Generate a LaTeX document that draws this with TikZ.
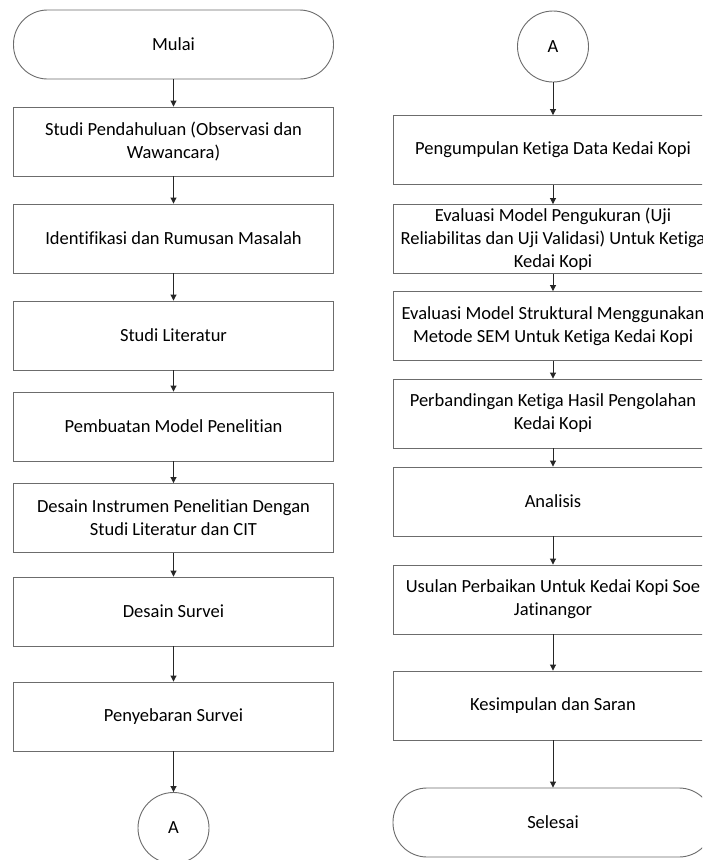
\documentclass[tikz,border=0pt]{standalone}
\usepackage{fontspec}
\setmainfont{Carlito}[Ligatures=CommonOff]
\usepackage{tikz}
\usetikzlibrary{arrows.meta}
\tikzstyle{proses}=[draw=gray!85!black,line width=0.9pt,shape=rectangle,minimum width=320,minimum height=69,align=center,inner sep=0pt]
\tikzstyle{terminal}=[proses,rounded corners=34pt]
\tikzstyle{konektor}=[draw=gray!85!black,line width=0.9pt,shape=circle,minimum size=71,inner sep=0pt]
\tikzstyle{panah}=[draw=black!85,line width=0.9pt,-{Triangle[length=6pt,width=6pt]}]

\begin{document}
\begin{tikzpicture}[x=1pt,y=-1pt,font=\fontsize{18.5}{23}\selectfont]
\clip (0,0) rectangle (702,860);
\fill[white] (0,0) rectangle (702,860);

\node[terminal] (mulai) at (173.5,44.5) {Mulai};
\node[proses] (studi) at (173.5,141.5) {Studi Pendahuluan (Observasi dan\\Wawancara)};
\node[proses] (rumusan) at (173.5,238.5) {Identifikasi dan Rumusan Masalah};
\node[proses] (literatur) at (173.5,335.5) {Studi Literatur};
\node[proses] (model) at (173.5,426.5) {Pembuatan Model Penelitian};
\node[proses] (instrumen) at (173.5,518) {Desain Instrumen Penelitian Dengan\\Studi Literatur dan CIT};
\node[proses] (desain) at (173.5,611.5) {Desain Survei};
\node[proses] (sebar) at (173.5,716.5) {Penyebaran Survei};
\node[konektor] (a1) at (173.5,828) {A};

\node[konektor] (a2) at (553,46.5) {A};
\node[proses] (kumpul) at (553,150) {Pengumpulan Ketiga Data Kedai Kopi};
\node[proses] (ukur) at (553,239) {Evaluasi Model Pengukuran (Uji\\Reliabilitas dan Uji Validasi) Untuk Ketiga\\Kedai Kopi};
\node[proses] (struktural) at (553,326) {Evaluasi Model Struktural Menggunakan\\Metode SEM Untuk Ketiga Kedai Kopi};
\node[proses] (banding) at (553,413.5) {Perbandingan Ketiga Hasil Pengolahan\\Kedai Kopi};
\node[proses] (analisis) at (553,501.5) {Analisis};
\node[proses] (usulan) at (553,599.5) {Usulan Perbaikan Untuk Kedai Kopi Soe\\Jatinangor};
\node[proses] (simpulan) at (553,705.5) {Kesimpulan dan Saran};
\node[terminal] (selesai) at (553,822.5) {Selesai};

\draw[panah] (mulai) -- (studi);
\draw[panah] (studi) -- (rumusan);
\draw[panah] (rumusan) -- (literatur);
\draw[panah] (literatur) -- (model);
\draw[panah] (model) -- (instrumen);
\draw[panah] (instrumen) -- (desain);
\draw[panah] (desain) -- (sebar);
\draw[panah] (sebar) -- (a1);

\draw[panah] (a2) -- (kumpul);
\draw[panah] (kumpul) -- (ukur);
\draw[panah] (ukur) -- (struktural);
\draw[panah] (struktural) -- (banding);
\draw[panah] (banding) -- (analisis);
\draw[panah] (analisis) -- (usulan);
\draw[panah] (usulan) -- (simpulan);
\draw[panah] (simpulan) -- (selesai);

\end{tikzpicture}
\end{document}
